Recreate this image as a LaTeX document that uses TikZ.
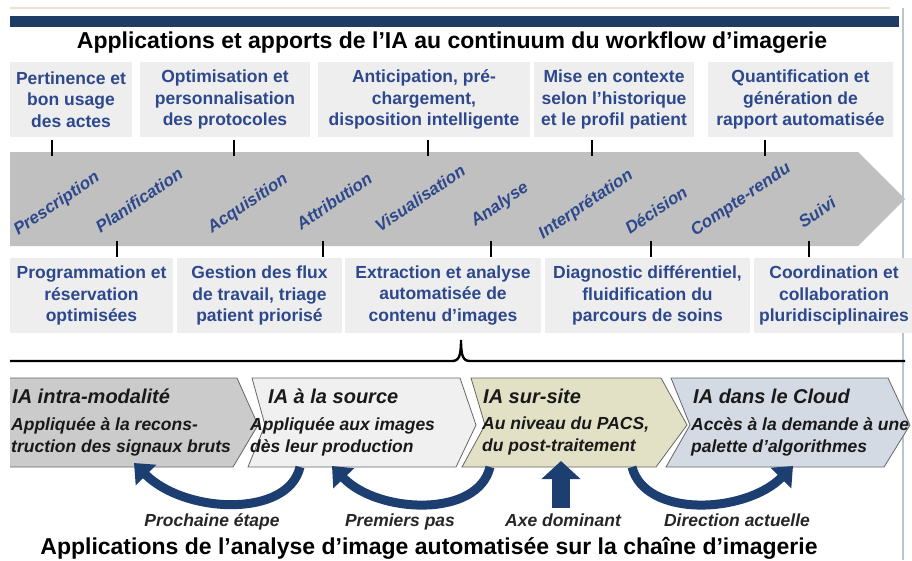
\documentclass[tikz,border=0pt]{standalone}
\usepackage{fontspec}
\setmainfont{Liberation Sans}
\usetikzlibrary{positioning,arrows.meta}
\definecolor{iablue}{RGB}{45,72,140}
\definecolor{barblue}{RGB}{31,60,100}
\definecolor{arrowblue}{RGB}{28,62,112}
\definecolor{boxgray}{RGB}{238,238,238}
\definecolor{bandgray}{RGB}{192,192,192}
\definecolor{chevA}{RGB}{203,203,203}
\definecolor{chevB}{RGB}{240,240,240}
\definecolor{chevC}{RGB}{226,225,198}
\definecolor{chevD}{RGB}{211,218,228}
\definecolor{frameline}{RGB}{185,196,212}
\definecolor{beige}{RGB}{232,226,208}

\begin{document}
\begin{tikzpicture}[x=1pt,y=-1pt,
  infobox/.style={fill=boxgray,inner sep=0pt,minimum height=75pt,align=center,text=iablue,
    font=\fontsize{17.5}{21.5}\selectfont\bfseries},
  stage/.style={rotate=34,inner sep=0pt,text=iablue,font=\fontsize{17}{20}\selectfont\bfseries\itshape},
  tick/.style={line width=2.6pt},
  chev/.style={draw=black!60,line width=0.8pt},
  chevtitle/.style={anchor=base west,inner sep=0pt,text=black!90,
    font=\fontsize{20}{24}\selectfont\bfseries\itshape},
  chevtext/.style={anchor=north west,inner sep=0pt,align=left,text=black!90,
    font=\fontsize{17.5}{22}\selectfont\bfseries\itshape},
  arrowlabel/.style={anchor=base,inner sep=0pt,text=black!85,
    font=\fontsize{17.5}{21}\selectfont\bfseries\itshape},
  curvearrow/.style={draw=arrowblue,line width=9pt,-{Triangle[length=17pt,width=28pt]}},
  headline/.style={anchor=base,inner sep=0pt,font=\fontsize{23}{27}\selectfont\bfseries}]
\useasboundingbox (0,0) rectangle (912,560);

\draw[beige,line width=2pt] (10,8) -- (890,8);
\fill[barblue] (10,16) rectangle (899,27);
\draw[frameline,line width=2pt] (903,8) -- (903,560);

\node[headline] (ttop) at (452,48) {Applications et apports de l’IA au continuum du workflow d’imagerie};

\node[infobox,minimum width=122pt] (p1) at (71,99.5) {Pertinence et\\bon usage\\des actes};
\node[infobox,minimum width=170pt] (p2) at (225,99.5) {Optimisation et\\personnalisation\\des protocoles};
\node[infobox,minimum width=212pt] (p3) at (424,99.5) {Anticipation, pré-\\chargement,\\disposition intelligente};
\node[infobox,minimum width=160pt] (p4) at (614,99.5) {Mise en contexte\\selon l’historique\\et le profil patient};
\node[infobox,minimum width=185pt] (p5) at (800.5,99.5) {Quantification et\\génération de\\rapport automatisée};

\fill[bandgray] (10,152) -- (858,152) -- (905,199) -- (858,246) -- (10,246) -- cycle;
\foreach \x in {52,234,428,592,765} \draw[tick] (\x,140) -- (\x,156);
\foreach \x in {117,323,491,651,809} \draw[tick] (\x,241) -- (\x,257);

\node[stage] (s1) at (57,204) {Prescription};
\node[stage] (s2) at (139,200) {Planification};
\node[stage] (s3) at (248,204) {Acquisition};
\node[stage] (s4) at (334,201) {Attribution};
\node[stage] (s5) at (420,198) {Visualisation};
\node[stage] (s6) at (500,205) {Analyse};
\node[stage] (s7) at (586,205) {Interprétation};
\node[stage] (s8) at (656,210) {Décision};
\node[stage] (s9) at (741,200) {Compte-rendu};
\node[stage] (s10) at (817,212) {Suivi};

\node[infobox,minimum width=163pt] (q1) at (91.5,295.5) {Programmation et\\réservation\\optimisées};
\node[infobox,minimum width=165pt] (q2) at (259.5,295.5) {Gestion des flux\\de travail, triage\\patient priorisé};
\node[infobox,minimum width=196pt] (q3) at (443,295.5) {Extraction et analyse\\automatisée de\\contenu d’images};
\node[infobox,minimum width=205pt] (q4) at (647.5,295.5) {Diagnostic différentiel,\\fluidification du\\parcours de soins};
\node[infobox,minimum width=160pt] (q5) at (834,295.5) {Coordination et\\collaboration\\pluridisciplinaires};

\draw[line width=2.4pt] (10,361) -- (452,361) .. controls (459,361) and (461,356) .. (461,340)
  .. controls (461,356) and (463,361) .. (470,361) -- (905,361);

\filldraw[chev,fill=chevA] (10,378) -- (237,378) -- (258,425) -- (233,467) -- (10,467);
\filldraw[chev,fill=chevB] (252,378) -- (460,378) -- (476,425) -- (456,467) -- (248,467) -- (265,425) -- cycle;
\filldraw[chev,fill=chevC] (471,378) -- (661,378) -- (687,425) -- (656,467) -- (462,467) -- (485,425) -- cycle;
\filldraw[chev,fill=chevD] (671,378) -- (888,378) -- (910,425) -- (884,467) -- (666,467) -- (690,425) -- cycle;

\node[chevtitle] (c1) at (12,403) {IA intra-modalité};
\node[chevtext] (c1t) at (11,417) {Appliquée à la recons-\\truction des signaux bruts};
\node[chevtitle] (c2) at (268,403) {IA à la source};
\node[chevtext] (c2t) at (250,417) {Appliquée aux images\\dès leur production};
\node[chevtitle] (c3) at (483,403) {IA sur-site};
\node[chevtext] (c3t) at (482,417) {Au niveau du PACS,\\du post-traitement};
\node[chevtitle] (c4) at (693,403) {IA dans le Cloud};
\node[chevtext] (c4t) at (691,417) {Accès à la demande à une\\palette d’algorithmes};

\coordinate (a1) at (300,467);
\coordinate (a1e) at (134,463);
\coordinate (a2) at (490,467);
\coordinate (a2e) at (332,466);
\coordinate (a3) at (561,508);
\coordinate (a3e) at (561,461);
\coordinate (a4) at (632,467);
\coordinate (a4e) at (793,466);
\draw[curvearrow] (a1) .. controls (288,518) and (185,514) .. (a1e);
\draw[curvearrow] (a2) .. controls (478,518) and (378,514) .. (a2e);
\draw[arrowblue,line width=18pt,-{Triangle[length=18pt,width=38pt]}] (a3) -- (a3e);
\draw[curvearrow] (a4) .. controls (645,518) and (745,514) .. (a4e);

\node[arrowlabel] (l1) at (212,526) {Prochaine étape};
\node[arrowlabel] (l2) at (400,526) {Premiers pas};
\node[arrowlabel] (l3) at (563,526) {Axe dominant};
\node[arrowlabel] (l4) at (737,526) {Direction actuelle};

\node[headline] (tbot) at (429,554) {Applications de l’analyse d’image automatisée sur la chaîne d'imagerie};
\end{tikzpicture}
\end{document}
